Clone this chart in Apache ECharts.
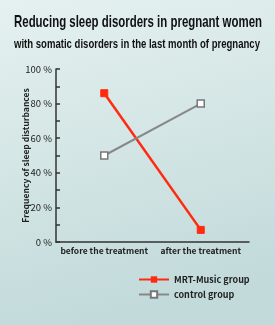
<!DOCTYPE html>
<html>
<head>
<meta charset="utf-8">
<script src="https://cdn.jsdelivr.net/npm/echarts@6/dist/echarts.min.js"></script>
<style>
  html, body { margin: 0; padding: 0; }
  #chart { width: 275px; height: 325px; }
</style>
</head>
<body>
<div id="chart"></div>
<script>
// categories and values
const categories = ['before the treatment', 'after the treatment'];
const mrtMusic = [86, 7];
const control = [50, 80];
const seriesNames = ['MRT-Music group', 'control group'];
const titleLines = [
  'Reducing sleep disorders in pregnant women',
  'with somatic disorders in the last month of pregnancy'
];

const chart = echarts.init(document.getElementById('chart'), null, { renderer: 'canvas' });

const font = "'Noto Sans CJK SC', 'Liberation Sans', sans-serif";
const titleFont = "'Liberation Sans', sans-serif";

// the title face is very condensed: squeeze it horizontally to the width it has in the picture
function squeeze(text, css, width) {
  const ctx = document.createElement('canvas').getContext('2d');
  ctx.font = css;
  return width / ctx.measureText(text).width;
}
const t1Font = 'bold 17px ' + titleFont;
const t2Font = 'bold 13px ' + titleFont;

const option = {
  backgroundColor: new echarts.graphic.LinearGradient(0, 0, 0.3, 1, [
    { offset: 0, color: '#e5f1f0' },
    { offset: 1, color: '#c2dada' }
  ]),
  graphic: [
    {
      type: 'text',
      x: 138, y: 22,
      scaleX: squeeze(titleLines[0], t1Font, 248),
      style: { text: titleLines[0], font: t1Font, fill: '#111', align: 'center', verticalAlign: 'middle' }
    },
    {
      type: 'text',
      x: 137, y: 44,
      scaleX: squeeze(titleLines[1], t2Font, 246),
      style: { text: titleLines[1], font: t2Font, fill: '#111', align: 'center', verticalAlign: 'middle' }
    }
  ],
  grid: { left: 56, right: 26, top: 69, bottom: 83, containLabel: false, outerBoundsMode: 'none' },
  legend: {
    orient: 'vertical',
    left: 133,
    top: 270,
    itemWidth: 30,
    itemHeight: 8,
    itemGap: 6,
    data: seriesNames,
    textStyle: { fontFamily: font, fontWeight: 'bold', fontSize: 9, color: '#222' }
  },
  xAxis: {
    type: 'category',
    data: categories,
    boundaryGap: true,
    axisLine: { lineStyle: { color: '#333', width: 1.5 } },
    axisTick: { inside: true, length: 4, lineStyle: { color: '#333', width: 1.5 } },
    axisLabel: { interval: 0, hideOverlap: false, fontFamily: font, fontWeight: 'bold', fontSize: 8.5, color: '#222', margin: 5 }
  },
  yAxis: {
    type: 'value',
    min: 0,
    max: 100,
    interval: 10,
    name: 'Frequency of sleep disturbances',
    nameLocation: 'middle',
    nameGap: 26,
    nameMoveOverlap: false,
    nameTextStyle: { fontFamily: font, fontWeight: 'bold', fontSize: 8.5, color: '#222' },
    splitLine: { show: false },
    axisLine: { show: true, lineStyle: { color: '#333', width: 1.5 } },
    axisTick: { show: true, inside: true, length: 4, lineStyle: { color: '#333', width: 1.5 } },
    axisLabel: {
      fontFamily: font,
      fontSize: 9.5,
      color: '#222',
      margin: 4,
      formatter: function (v) { return v % 20 === 0 ? v + ' %' : ''; }
    }
  },
  series: [
    {
      name: seriesNames[0],
      type: 'line',
      data: mrtMusic,
      symbol: 'rect',
      symbolSize: 7,
      lineStyle: { color: '#ff2a10', width: 2.5 },
      itemStyle: { color: '#ff2a10', borderColor: '#ff2a10' }
    },
    {
      name: seriesNames[1],
      type: 'line',
      data: control,
      symbol: 'rect',
      symbolSize: 7,
      lineStyle: { color: '#888', width: 2 },
      itemStyle: { color: '#ffffff', borderColor: '#777', borderWidth: 1.5 }
    }
  ]
};

chart.setOption(option);
</script>
</body>
</html>
